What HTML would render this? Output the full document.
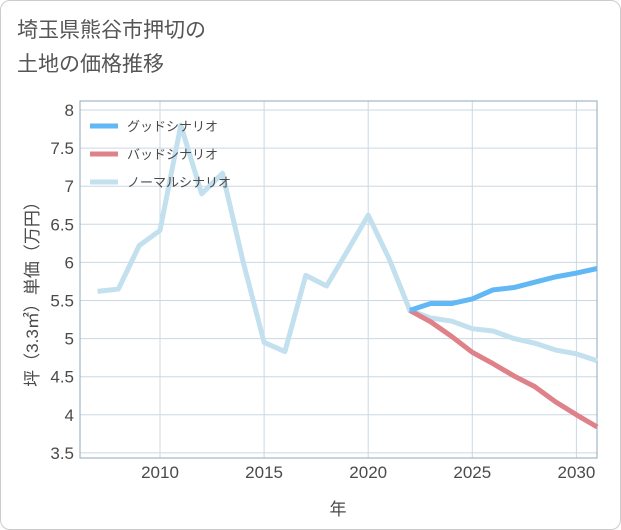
<!DOCTYPE html>
<html><head><meta charset="utf-8"><style>
body{margin:0;background:#fff;}
.wrap{position:relative;width:621px;height:530px;font-family:"Liberation Sans","Noto Sans CJK JP",sans-serif;}
.frame{position:absolute;left:0;top:0;width:619px;height:528px;border:1px solid #ccc;border-radius:10px;background:#fff;}
.title{position:absolute;left:17px;top:14px;font-size:21px;line-height:34px;color:#555;}
</style></head><body>
<div class="wrap">
<div class="frame"></div>
<div class="title">埼玉県熊谷市押切の<br>土地の価格推移</div>
<svg id="chart" width="621" height="530" style="position:absolute;left:0;top:0"></svg>
</div>
<script>
const years=[2007,2008,2009,2010,2011,2012,2013,2014,2015,2016,2017,2018,2019,2020,2021,2022,2023,2024,2025,2026,2027,2028,2029,2030,2031];
const normalValues=[5.62,5.65,6.22,6.42,7.8,6.9,7.17,6.0,4.95,4.83,5.83,5.69,6.15,6.62,6.05,5.37,5.27,5.23,5.13,5.1,5.0,4.94,4.85,4.8,4.71];
const forecastYears=[2022,2023,2024,2025,2026,2027,2028,2029,2030,2031];
const goodValues=[5.37,5.46,5.46,5.52,5.64,5.67,5.74,5.81,5.86,5.92];
const badValues=[5.37,5.22,5.03,4.82,4.67,4.51,4.37,4.17,4.0,3.84];
const xTicks=[2010,2015,2020,2025,2030];
const yTicks=[3.5,4,4.5,5,5.5,6,6.5,7,7.5,8];
const yTickLabels=["3.5","4","4.5","5","5.5","6","6.5","7","7.5","8"];
const legendNames=["グッドシナリオ","バッドシナリオ","ノーマルシナリオ"];

const L=80,R=597,T=101,B=458;
const x=y=>160+(y-2010)*20.82;
const yv=v=>110+(8-v)*76.2;
const svg=document.getElementById('chart');
const NS='http://www.w3.org/2000/svg';
function mk(tag,attrs){const e=document.createElementNS(NS,tag);for(const k in attrs)e.setAttribute(k,attrs[k]);svg.appendChild(e);return e;}

const bg=mk('rect',{x:L,y:T,width:R-L,height:B-T,fill:'#fff',stroke:'none'});


xTicks.forEach(yr=>{
  const l=mk('line',{x1:x(yr),x2:x(yr),y1:T,y2:B,stroke:'#cad8e4','stroke-width':1});
  
  
});
yTicks.forEach((v,i)=>{
  const l=mk('line',{x1:L,x2:R,y1:yv(v),y2:yv(v),stroke:'#cad8e4','stroke-width':1});
  
  
  const t=mk('text',{x:74,y:yv(v)+6,'text-anchor':'end','font-size':17,fill:'#4a4a4a'});
  t.textContent=yTickLabels[i];
  
  
});
xTicks.forEach(v=>{
  const t=mk('text',{x:x(v),y:478,'text-anchor':'middle','font-size':17,fill:'#4a4a4a'});
  t.textContent=String(v);
  
  
});
const border=mk('rect',{x:L,y:T,width:R-L,height:B-T,fill:'none',stroke:'#8ea9bd','stroke-width':1});



function series(xs,vs,color,name){
  const p=mk('polyline',{points:xs.map((yr,i)=>x(yr)+','+yv(vs[i])).join(' '),fill:'none',stroke:color,'stroke-width':5,'stroke-linejoin':'round','stroke-linecap':'butt'});
  
  
}
series(years,normalValues,'#c2e0ee','normal-scenario-line');
series(forecastYears,badValues,'#df8188','bad-scenario-line');
series(forecastYears,goodValues,'#62b8f5','good-scenario-line');

const colors=['#62b8f5','#df8188','#c2e0ee'];
legendNames.forEach((n,i)=>{
  const yy=126+i*28;
  const l=mk('line',{x1:90,x2:118,y1:yy,y2:yy,stroke:colors[i],'stroke-width':5});
  
  
  const t=mk('text',{x:127,y:yy+5,'font-size':13,fill:'#4a4a4a'});
  t.textContent=n;
  
  
});
const xt=mk('text',{x:338,y:515,'text-anchor':'middle','font-size':17,fill:'#4a4a4a'});
xt.textContent='年';


const yt=mk('text',{x:0,y:0,'text-anchor':'middle','font-size':17,fill:'#4a4a4a',transform:'translate(38,290) rotate(-90)'});
yt.textContent='坪（3.3㎡）単価（万円）';


</script>
</body></html>
